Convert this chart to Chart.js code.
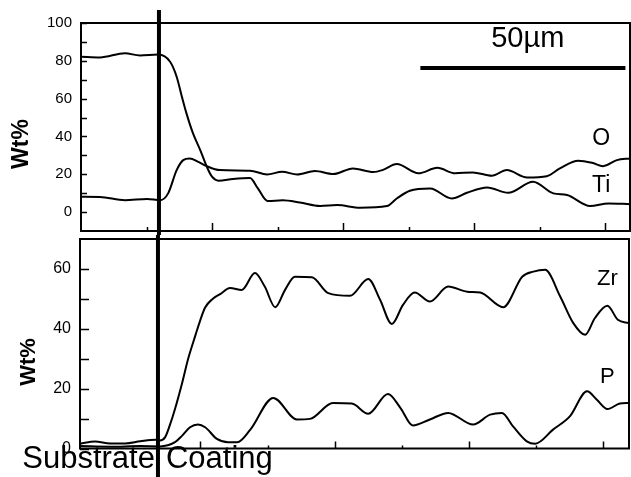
<!DOCTYPE html>
<html><head><meta charset="utf-8">
<script src="https://cdn.jsdelivr.net/npm/chart.js@4.4.1/dist/chart.umd.min.js"></script>
<style>
html,body{margin:0;padding:0;background:#fff;width:631px;height:477px;overflow:hidden}
.wrap{position:absolute;left:0;width:631px}
</style></head><body>
<div class="wrap" style="top:0;height:235px"><canvas id="top" width="631" height="235"></canvas></div>
<div class="wrap" style="top:235px;height:242px"><canvas id="bot" width="631" height="242"></canvas></div>
<script>
// ---- data (x = distance along line scan, arbitrary units; y = Wt%) ----
const O_X  = [0, 2.9, 6.7, 10.1, 12.1, 13.3, 14.6, 15.6, 16.6, 17.9, 19.2, 21.2, 25.8, 28.4, 30.7, 33.0, 35.7, 38.5, 41.5, 44.6, 46.0, 48.2, 51.5, 54.4, 57.1, 59.8, 62.7, 65.0, 68.1, 71.1, 73.1, 75.9, 78.0, 79.7, 81.8, 83.8];
const O_Y  = [8.1, 8.0, 6.3, 6.9, 6.3, 9.9, 22.2, 27.5, 28.4, 26.6, 24.3, 22.2, 21.9, 19.9, 21.3, 19.9, 21.7, 20.1, 23.1, 21.2, 22.2, 25.4, 20.5, 23.4, 20.5, 21.0, 19.2, 22.2, 18.3, 19.0, 23.1, 27.2, 26.1, 24.3, 27.5, 28.4];
const TI_X = [0, 2.9, 6.7, 9.0, 11.8, 13.6, 14.6, 15.4, 16.1, 17.1, 18.2, 19.2, 20.0, 21.0, 23.2, 25.8, 27.0, 28.5, 30.8, 33.4, 36.5, 39.1, 42.6, 46.7, 48.2, 50.2, 53.3, 56.6, 58.9, 62.0, 65.2, 69.0, 72.1, 74.2, 77.7, 80.5, 83.8];
const TI_Y = [82.2, 81.8, 84.0, 82.8, 83.3, 79.5, 71.6, 61.0, 52.2, 41.6, 32.8, 24.0, 18.7, 16.6, 17.5, 18.0, 12.5, 5.8, 6.3, 5.1, 3.2, 3.7, 2.3, 3.2, 7.2, 11.3, 12.5, 7.2, 10.2, 13.0, 10.2, 16.0, 9.9, 9.0, 3.2, 4.6, 4.2];
const ZR_X = [0, 2.3, 4.6, 6.9, 9.2, 11.5, 12.2, 13.0, 13.7, 14.5, 15.6, 16.5, 17.6, 18.3, 19.1, 20.2, 21.4, 22.9, 24.7, 26.7, 28.2, 29.8, 31.3, 32.8, 35.4, 37.9, 41.2, 44.0, 45.8, 47.6, 49.3, 51.1, 53.4, 56.2, 59.1, 61.1, 64.6, 67.5, 69.2, 71.0, 73.3, 75.3, 77.1, 78.6, 80.5, 82.1, 83.8];
const ZR_Y = [1.6, 2.3, 1.7, 1.7, 2.4, 2.9, 2.7, 3.8, 7.7, 13.2, 22.0, 29.9, 37.7, 42.5, 47.1, 49.9, 51.6, 53.6, 53.0, 58.6, 54.1, 47.2, 53.0, 57.4, 57.2, 51.9, 51.0, 56.6, 49.7, 41.6, 48.0, 52.1, 49.1, 54.1, 52.4, 52.1, 47.2, 57.4, 59.1, 59.7, 50.8, 41.9, 38.0, 43.6, 47.7, 43.0, 41.9];
const P_X  = [0, 4.6, 9.2, 12.2, 14.5, 15.6, 16.8, 18.0, 19.1, 20.9, 22.6, 24.0, 26.0, 29.5, 33.1, 35.1, 38.6, 41.5, 44.0, 47.0, 48.9, 50.8, 53.4, 56.2, 60.0, 62.6, 64.4, 66.1, 68.2, 69.5, 72.2, 74.8, 77.4, 78.9, 80.5, 82.4, 83.8];
const P_Y  = [0.8, 0.6, 0.8, 0.7, 2.1, 4.3, 7.1, 8.0, 7.1, 3.2, 2.1, 2.1, 6.3, 16.9, 9.7, 9.9, 15.2, 15.0, 11.6, 18.2, 13.6, 7.7, 9.7, 11.9, 8.0, 11.3, 11.9, 7.4, 2.4, 1.6, 6.3, 10.8, 19.1, 16.3, 13.2, 15.0, 15.2];

// ---- ticks ----
const TOP_Y_LABELS = [0, 20, 40, 60, 80, 100];
const TOP_Y_MINOR  = [10, 30, 50, 70, 90];
const BOT_Y_LABELS = [0, 20, 40, 60];
const BOT_Y_MINOR  = [10, 30, 50];
const TOP_X_MAJOR  = [20, 40, 60, 80];
const TOP_X_MINOR  = [10, 30, 50, 70];
const BOT_X_MAJOR  = [18.3, 38.9, 59.4, 79.8];
const BOT_X_MINOR  = [28.7, 49.2, 69.6];
const INTERFACE_X  = 11.9;

const FONT = 'Arial, "Liberation Sans", sans-serif';
const pts = (xs, ys) => xs.map((x, i) => ({x, y: ys[i]}));
const ds = (label, xs, ys) => ({label, data: pts(xs, ys), borderColor: '#000', borderWidth: 2,
  pointRadius: 0, fill: false, cubicInterpolationMode: 'monotone'});

const decor = {
  id: 'decor',
  afterDraw(chart, args, o) {
    const {ctx, chartArea: a, scales: {x, y}} = chart;
    ctx.save();
    ctx.strokeStyle = '#000'; ctx.fillStyle = '#000';
    ctx.lineWidth = 2;
    ctx.strokeRect(a.left, a.top, a.right - a.left, a.bottom - a.top);
    ctx.lineWidth = 1.5;
    ctx.beginPath();
    const xt = (vals, len) => vals.forEach(v => { const p = Math.round(x.getPixelForValue(v)) + 0.5; ctx.moveTo(p, a.bottom); ctx.lineTo(p, a.bottom - len); });
    const yt = (vals, len) => vals.forEach(v => { const p = Math.round(y.getPixelForValue(v)) + 0.5; ctx.moveTo(a.left, p); ctx.lineTo(a.left + len, p); });
    xt(o.xMajor, o.xMajorLen); xt(o.xMinor, o.xMinorLen);
    yt(o.yMajor, o.yLen); yt(o.yMinor, o.yLen);
    ctx.stroke();
    const ix = x.getPixelForValue(INTERFACE_X);
    ctx.lineWidth = 4;
    ctx.beginPath(); ctx.moveTo(ix, o.lineTop); ctx.lineTo(ix, chart.height); ctx.stroke();
    if (o.bar) {
      ctx.lineWidth = 4;
      const by = y.getPixelForValue(o.bar.y);
      ctx.beginPath(); ctx.moveTo(x.getPixelForValue(o.bar.x0), by); ctx.lineTo(x.getPixelForValue(o.bar.x1), by); ctx.stroke();
    }
    (o.texts || []).forEach(t => {
      ctx.save();
      ctx.font = (t.weight || 'normal') + ' ' + t.size + 'px ' + FONT;
      ctx.textAlign = t.align || 'center';
      ctx.textBaseline = t.baseline || 'alphabetic';
      let px = t.px !== undefined ? t.px : (t.dx !== undefined ? ix + t.dx : x.getPixelForValue(t.x));
      let py = t.py !== undefined ? t.py : y.getPixelForValue(t.y);
      ctx.translate(px, py);
      if (t.rotate) ctx.rotate(t.rotate);
      ctx.fillText(t.text, 0, 0);
      ctx.restore();
    });
    ctx.restore();
  }
};

function yAxis(min, max, labels, width, fontSize) {
  return {
    min, max,
    afterBuildTicks: ax => { ax.ticks = labels.map(v => ({value: v})); },
    grid: {display: false, drawTicks: false},
    border: {display: false},
    ticks: {font: {family: FONT, size: fontSize}, color: '#000', padding: 9},
    afterFit: ax => { ax.width = width; ax.paddingTop = 0; ax.paddingBottom = 0; }
  };
}
const xAxis = () => ({type: 'linear', min: 0, max: 83.8, display: false});

new Chart(document.getElementById('top'), {
  type: 'line',
  data: {datasets: [ds('Ti', TI_X, TI_Y), ds('O', O_X, O_Y)]},
  options: {
    responsive: false, animation: false, events: [],
    layout: {padding: {left: 0, top: 23, right: 1, bottom: 4}},
    scales: {x: xAxis(), y: yAxis(-10, 100, TOP_Y_LABELS, 81, 15)},
    plugins: {
      legend: {display: false}, tooltip: {enabled: false},
      decor: {
        xMajor: TOP_X_MAJOR, xMinor: TOP_X_MINOR, xMajorLen: 8, xMinorLen: 4,
        yMajor: TOP_Y_LABELS, yMinor: TOP_Y_MINOR, yLen: 6, lineTop: 10,
        bar: {x0: 51.8, x1: 83.1, y: 76.2},
        texts: [
          {text: '50\u00b5m', x: 68.2, y: 87.3, size: 29},
          {text: 'O', x: 79.4, y: 35.4, size: 23},
          {text: 'Ti', x: 79.4, y: 10.6, size: 23},
          {text: 'Wt%', px: 22, y: 36, size: 23, weight: 'bold', baseline: 'middle', rotate: -Math.PI / 2}
        ]
      }
    }
  },
  plugins: [decor]
});

new Chart(document.getElementById('bot'), {
  type: 'line',
  data: {datasets: [ds('Zr', ZR_X, ZR_Y), ds('P', P_X, P_Y)]},
  options: {
    responsive: false, animation: false, events: [],
    layout: {padding: {left: 0, top: 4, right: 2, bottom: 28.5}},
    scales: {x: xAxis(), y: yAxis(0, 70, BOT_Y_LABELS, 80, 16)},
    plugins: {
      legend: {display: false}, tooltip: {enabled: false},
      decor: {
        xMajor: BOT_X_MAJOR, xMinor: BOT_X_MINOR, xMajorLen: 7, xMinorLen: 3,
        yMajor: BOT_Y_LABELS, yMinor: BOT_Y_MINOR, yLen: 9, lineTop: 0,
        texts: [
          {text: 'Zr', x: 80.5, y: 54.7, size: 22},
          {text: 'P', x: 80.5, y: 21.9, size: 22},
          {text: 'Wt%', px: 29, y: 28.9, size: 22, weight: 'bold', baseline: 'middle', rotate: -Math.PI / 2},
          {text: 'Substrate', dx: -3, py: 233, size: 31, align: 'right'},
          {text: 'Coating', dx: 8, py: 233, size: 31, align: 'left'}
        ]
      }
    }
  },
  plugins: [decor]
});
</script>
</body></html>
